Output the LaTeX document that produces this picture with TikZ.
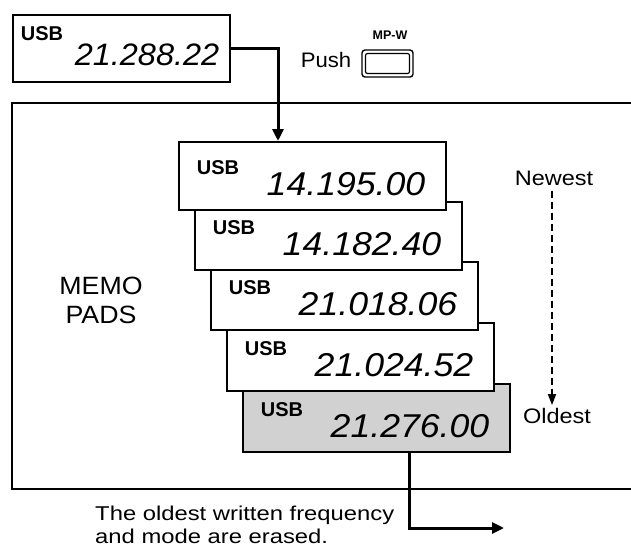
\documentclass[tikz,border=0pt]{standalone}
\usepackage{fontspec}
\setmainfont{Liberation Sans}
\usetikzlibrary{arrows.meta,calc}
\begin{document}
\begin{tikzpicture}[x=1pt,y=-1pt,
  frame/.style={line width=2pt},
  memo/.style={draw, line width=2pt, fill=white, minimum width=267pt, minimum height=68pt, inner sep=0pt, anchor=north west},
  usb/.style={font=\bfseries\fontsize{20}{20}\selectfont, inner sep=0pt},
  freq/.style={font=\itshape\fontsize{33}{33}\selectfont, inner sep=0pt, xscale=1.08},
  lbl/.style={font=\fontsize{21}{21}\selectfont, inner sep=0pt, xscale=1.12},
  note/.style={font=\fontsize{20}{20}\selectfont, inner sep=0pt, anchor=base west, xscale=1.19},
  conn/.style={line width=3pt, -{Triangle[length=12pt,width=11pt]}},
]
\useasboundingbox (0,0) rectangle (631,552);
% main frame
\draw[frame] (631,103) -- (12,103) -- (12,489) -- (631,489);
% top display
\node[memo, minimum width=217pt, minimum height=67pt] (top) at (12,14) {};
\node[usb] (tusb) at ($(top.north west)+(30,20)$) {USB};
\node[freq, font=\itshape\fontsize{31}{31}\selectfont, xscale=0.97] (tfreq) at ($(top.north west)+(135,41)$) {21.288.22};
% push button
\node[lbl, xscale=0.94] (push) at (326,60) {Push};
\node[font=\bfseries\fontsize{12.5}{12.5}\selectfont, inner sep=0pt] (mpw) at (390,35) {MP-W};
\node[draw, line width=1.4pt, rounded corners=3pt, minimum width=51pt, minimum height=27pt, inner sep=0pt] (btn) at (387.5,63.5) {};
\node[draw, line width=1.2pt, rounded corners=2pt, minimum width=44pt, minimum height=20pt, inner sep=0pt] (btnin) at (387.5,63.5) {};
% memo boxes
\node[memo, fill=black!18] (m5) at (242,383) {};
\node[memo] (m4) at (226,322) {};
\node[memo] (m3) at (210,261) {};
\node[memo] (m2) at (194,201) {};
\node[memo] (m1) at (178,141) {};
\foreach \m/\f in {m1/14.195.00, m2/14.182.40, m3/21.018.06, m4/21.024.52, m5/21.276.00}{
  \node[usb] (\m usb) at ($(\m.north west)+(40,27)$) {USB};
  \node[freq] (\m freq) at ($(\m.north west)+(168,43)$) {\f};
}
% labels
\node[font=\fontsize{25}{29}\selectfont, align=center, inner sep=0pt, xscale=1.07] (memo) at (101,300) {MEMO\\PADS};
\node[lbl] (newest) at (554,178) {Newest};
\node[lbl] (oldest) at (557,416) {Oldest};
\draw[line width=1.8pt, dash pattern=on 7pt off 4pt, -{Triangle[length=11pt,width=8pt]}] ($(newest.south)+(-2,5)$) -- ($(oldest.north)+(-5,-3)$);
% connectors
\coordinate (in1) at ($(m1.north west)+(100,0)$);
\draw[conn] (top.east) -| (in1);
\coordinate (out) at (504,528);
\draw[conn] ($(m5.south west)+(167,0)$) |- (out);
% bottom note
\node[note] (note1) at (95,520) {The oldest written frequency};
\node[note] (note2) at (95,543) {and mode are erased.};
\end{tikzpicture}
\end{document}
